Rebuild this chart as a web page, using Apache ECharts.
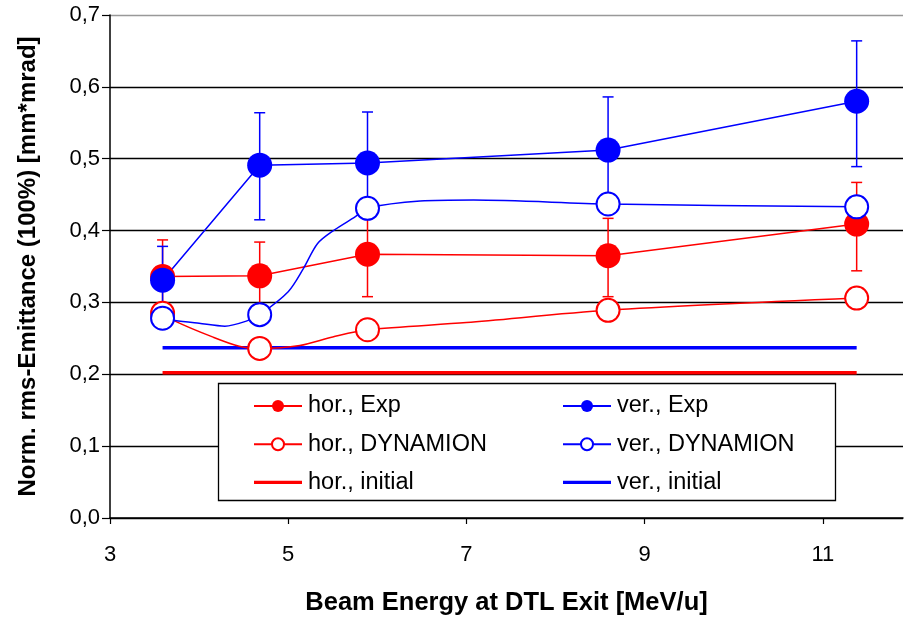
<!DOCTYPE html>
<html>
<head>
<meta charset="utf-8">
<script src="https://cdn.jsdelivr.net/npm/echarts@6/dist/echarts.min.js"></script>
<style>html,body{margin:0;padding:0;background:#fff;}#c{width:904px;height:619px;}</style>
</head>
<body>
<div id="c"></div>
<script>
// ---- data ----
const expX = [3.59, 4.68, 5.89, 8.59, 11.38];
const horExpY = [0.336, 0.337, 0.367, 0.365, 0.409];
const horErrLow = [0.285, 0.290, 0.308, 0.308, 0.344];
const horErrHigh = [0.387, 0.384, 0.426, 0.417, 0.467];
const verExpY = [0.331, 0.491, 0.494, 0.512, 0.580];
const verErrLow = [0.284, 0.415, 0.424, 0.438, 0.489];
const verErrHigh = [0.378, 0.564, 0.565, 0.586, 0.664];

const dynMarkerX = [3.59, 4.68, 5.89, 8.59, 11.38];
const horDynX = [3.59, 3.73, 4.15, 4.45, 4.68, 5.13, 5.5, 5.89, 7.0, 8.59, 11.38];
const horDynY = [0.285, 0.274, 0.252, 0.239, 0.236, 0.240, 0.252, 0.262, 0.272, 0.289, 0.306];
const verDynX = [3.59, 3.73, 4.0, 4.29, 4.53, 4.68, 5.0, 5.17, 5.33, 5.52, 5.75, 5.89, 6.48, 7.08, 8.59, 11.38];
const verDynY = [0.278, 0.275, 0.271, 0.267, 0.274, 0.283, 0.315, 0.347, 0.382, 0.401, 0.419, 0.431, 0.441, 0.4425, 0.437, 0.433];

const initX = [3.59, 11.38];
const horInitY = [0.202, 0.202];
const verInitY = [0.237, 0.237];

const xTicks = [3, 5, 7, 9, 11];
const names = ['hor., Exp', 'ver., Exp', 'hor., DYNAMION', 'ver., DYNAMION', 'hor., initial', 'ver., initial'];

// ---- build ----
const RED = '#ff0000', BLUE = '#0000ff';
const FONT = '"Liberation Sans", Arial, sans-serif';
const pairs = (xs, ys) => xs.map((x, i) => [x, ys[i]]);
const dynData = (xs, ys) => xs.map((x, i) => ({
  value: [x, ys[i]],
  symbol: dynMarkerX.indexOf(x) >= 0 ? 'circle' : 'none'
}));
const errData = (lo, hi) => expX.map((x, i) => [x, lo[i], hi[i]]);

function errRender(color) {
  return function (params, api) {
    const x = api.value(0), lo = api.value(1), hi = api.value(2);
    const a = api.coord([x, lo]), b = api.coord([x, hi]);
    const w = 5.5;
    const st = { stroke: color, lineWidth: 1.5 };
    return {
      type: 'group',
      children: [
        { type: 'line', shape: { x1: a[0], y1: a[1], x2: b[0], y2: b[1] }, style: st },
        { type: 'line', shape: { x1: b[0] - w, y1: b[1], x2: b[0] + w, y2: b[1] }, style: st },
        { type: 'line', shape: { x1: a[0] - w, y1: a[1], x2: a[0] + w, y2: a[1] }, style: st }
      ]
    };
  };
}

const LINE_ICON = 'path://M0,0L48,0L48,3.2L0,3.2Z';
const chart = echarts.init(document.getElementById('c'), null, { renderer: 'canvas' });
const legendCommon = {
  orient: 'vertical',
  top: 394,
  itemWidth: 48,
  itemHeight: 15,
  itemGap: 14.2,
  padding: 0,
  textStyle: { fontFamily: FONT, fontSize: 23.5, color: '#000', padding: [0, 0, 0, 1] },
  z: 10
};
const option = {
  animation: false,
  backgroundColor: '#fff',
  grid: { left: 110, right: 1, top: 15, bottom: 101, containLabel: false, outerBoundsMode: 'none' },
  xAxis: {
    type: 'value', min: 3, max: 11.9, interval: 2,
    name: 'Beam Energy at DTL Exit [MeV/u]',
    nameLocation: 'middle', nameGap: 72,
    nameTextStyle: { fontFamily: FONT, fontSize: 25.5, fontWeight: 'bold', color: '#000' },
    axisLine: { show: true, onZero: false, lineStyle: { color: '#000', width: 1.5 } },
    axisTick: { show: true, length: 6, lineStyle: { color: '#000', width: 1.2 } },
    axisLabel: {
      fontFamily: FONT, fontSize: 22, color: '#000', margin: 26,
      showMaxLabel: false,
      formatter: v => (xTicks.indexOf(v) >= 0 ? String(v) : '')
    },
    splitLine: { show: false }
  },
  yAxis: {
    type: 'value', min: 0, max: 0.7, interval: 0.1,
    name: 'Norm. rms-Emittance (100%) [mm*mrad]',
    nameLocation: 'middle', nameGap: 70, nameRotate: 90,
    nameTextStyle: { fontFamily: FONT, fontSize: 24, fontWeight: 'bold', color: '#000' },
    axisLine: { show: true, lineStyle: { color: '#000', width: 1.5 } },
    axisTick: { show: true, length: 8, lineStyle: { color: '#000', width: 1.2 } },
    axisLabel: {
      fontFamily: FONT, fontSize: 22, color: '#000', margin: 10,
      formatter: v => v.toFixed(1).replace('.', ',')
    },
    splitLine: { show: true, lineStyle: { color: ['#000', '#000', '#000', '#000', '#000', '#000', '#000', '#999'], width: 1.3 } }
  },
  legend: [
    Object.assign({ left: 253, data: [names[0], names[2], { name: names[4], icon: LINE_ICON }] }, legendCommon),
    Object.assign({ left: 562, data: [names[1], names[3], { name: names[5], icon: LINE_ICON }] }, legendCommon)
  ],
  graphic: [{
    type: 'rect', z: 5,
    shape: { x: 218.5, y: 383.5, width: 617, height: 117 },
    style: { fill: '#fff', stroke: '#000', lineWidth: 1.3 }
  }],
  series: [
    { name: 'hor., initial', type: 'line', data: pairs(initX, horInitY), symbol: 'none',
      lineStyle: { color: RED, width: 3.5 }, itemStyle: { color: RED }, z: 1 },
    { name: 'ver., initial', type: 'line', data: pairs(initX, verInitY), symbol: 'none',
      lineStyle: { color: BLUE, width: 3.5 }, itemStyle: { color: BLUE }, z: 1 },
    { type: 'custom', renderItem: errRender(RED), data: errData(horErrLow, horErrHigh),
      encode: { x: 0, y: [1, 2] }, z: 2 },
    { type: 'custom', renderItem: errRender(BLUE), data: errData(verErrLow, verErrHigh),
      encode: { x: 0, y: [1, 2] }, z: 2 },
    { name: 'hor., Exp', type: 'line', data: pairs(expX, horExpY), symbol: 'circle', symbolSize: 25,
      lineStyle: { color: RED, width: 1.5 }, itemStyle: { color: RED }, z: 3 },
    { name: 'ver., Exp', type: 'line', data: pairs(expX, verExpY), symbol: 'circle', symbolSize: 25,
      lineStyle: { color: BLUE, width: 1.5 }, itemStyle: { color: BLUE }, z: 3 },
    { name: 'hor., DYNAMION', type: 'line', data: dynData(horDynX, horDynY), symbol: 'circle', symbolSize: 23,
      smooth: 0.3, showAllSymbol: true,
      lineStyle: { color: RED, width: 1.5 }, itemStyle: { color: '#fff', borderColor: RED, borderWidth: 2 }, z: 4 },
    { name: 'ver., DYNAMION', type: 'line', data: dynData(verDynX, verDynY), symbol: 'circle', symbolSize: 23,
      smooth: 0.3, showAllSymbol: true,
      lineStyle: { color: BLUE, width: 1.5 }, itemStyle: { color: '#fff', borderColor: BLUE, borderWidth: 2 }, z: 4 }
  ]
};
chart.setOption(option);
</script>
</body>
</html>
